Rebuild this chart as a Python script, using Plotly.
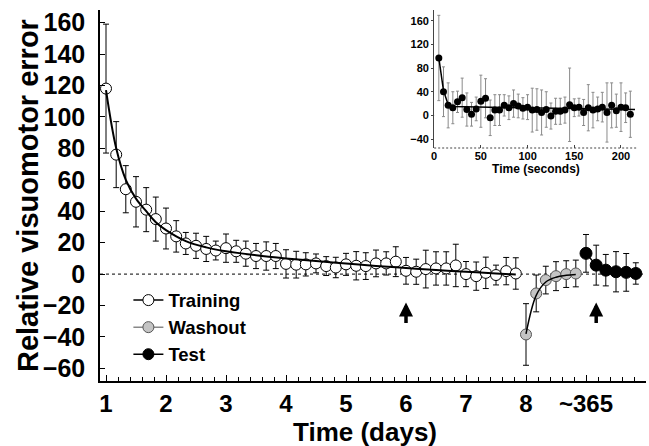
import plotly.graph_objects as go

# ---------------- data ----------------
train_day = [1.00, 1.17, 1.33, 1.50, 1.67, 1.83,
             2.00, 2.17, 2.33, 2.50, 2.67, 2.83,
             3.00, 3.17, 3.33, 3.50, 3.67, 3.83,
             4.00, 4.17, 4.33, 4.50, 4.67, 4.83,
             5.00, 5.17, 5.33, 5.50, 5.67, 5.83,
             6.00, 6.17, 6.33, 6.50, 6.67, 6.83,
             7.00, 7.17, 7.33, 7.50, 7.67, 7.83]
train_err_val = [118, 76, 54, 46, 41, 35,
                 29, 24, 19.5, 18, 16, 15,
                 16.5, 14.5, 13, 11.5, 11.5, 11.5,
                 6.5, 6, 6.2, 6.8, 5.1, 4.2,
                 6.2, 5.3, 5.1, 6.8, 6.8, 7.9,
                 2.1, 1.5, 3.2, 3.6, 3.6, 5.5,
                 0, -1.3, 0.8, -0.6, 1.9, 0.4]
train_sem = [41, 21, 15, 16, 14, 14,
             13, 10, 7, 8, 8, 6,
             9, 7, 8, 8, 9, 8,
             9, 8.5, 7.4, 6, 6, 6.5,
             7, 9, 8.5, 8.5, 7.4, 9.5,
             8.5, 8, 12, 10.6, 10.6, 13.5,
             8, 9, 10, 6.3, 8.7, 10]

train_fit_day = [1.00, 1.17, 1.33, 1.50, 1.67, 1.83, 2.00, 2.33, 2.67, 3.00,
                 3.50, 4.00, 4.50, 5.00, 5.50, 6.00, 6.50, 7.00, 7.50, 7.83]
train_fit_val = [117, 80, 60, 48, 40, 33, 28, 21, 17, 14.5,
                 12, 10, 8.3, 6.8, 5.2, 3.9, 2.6, 1.5, 0.4, -0.2]

wash_day = [8.00, 8.17, 8.33, 8.50, 8.67, 8.83]
wash_val = [-38.4, -12.3, -3.8, -1.3, 0, 0.4]
wash_sem = [19.6, 11.7, 8.8, 9.2, 8.5, 8.5]
wash_fit_val = [-38, -13.5, -5, -2, -0.8, -0.3]

test_day = [9.00, 9.17, 9.33, 9.50, 9.67, 9.83]
test_val = [13.2, 5.7, 2.5, 1.5, 1.1, 0.4]
test_sem = [12, 12.7, 10, 12.8, 12, 6.8]

x_tick_vals = [1, 2, 3, 4, 5, 6, 7, 8, 9]
x_tick_text = ["1", "2", "3", "4", "5", "6", "7", "8", "~365"]
y_tick_vals = [-60, -40, -20, 0, 20, 40, 60, 80, 100, 120, 140, 160]

arrow_days = [6.0, 9.17]

# inset (within-session, seconds)
inset_t = [5, 10, 15, 20, 25, 30, 35, 40, 45, 50, 55, 60, 65, 70,
           75, 80, 85, 90, 95, 100, 105, 110, 115, 120, 125, 130, 135, 140,
           145, 150, 155, 160, 165, 170, 175, 180, 185, 190, 195, 200, 205, 210]
inset_val = [97, 40, 17, 13, 23, 30, 10, 2, 11, 24, 29, -4, 9, 9,
             17, 13, 20, 16, 12, 14, 9, 10, 5, 10, -1, 7, 7, 9,
             18, 13, 14, 5, 13, 9, 11, 14, 5, 17, 8, 14, 13, 2]
inset_sd = [72, 42, 38, 27, 18, 33, 28, 20, 20, 44, 33, 30, 26, 26,
            18, 20, 23, 20, 18, 21, 37, 35, 38, 30, 22, 22, 22, 22,
            62, 15, 15, 22, 39, 30, 20, 25, 50, 38, 28, 41, 25, 39]
inset_fit_t = [5, 10, 15, 20, 60, 100, 140, 180, 215]
inset_fit_val = [97, 42, 18, 15, 14, 13, 12, 11, 10]
inset_tick_vals = [-40, 0, 40, 80, 120, 160]
inset_x_ticks = [0, 50, 100, 150, 200]

FONT = "Liberation Sans, Arial, sans-serif"

fig = go.Figure()

# training markers
fig.add_trace(go.Scatter(
    x=train_day, y=train_err_val, mode="markers", showlegend=False,
    marker=dict(symbol="circle", size=11, color="white",
                line=dict(color="black", width=1)),
    error_y=dict(type="data", array=train_sem, color="black",
                 thickness=1, width=3)))
# training fit
fig.add_trace(go.Scatter(
    x=train_fit_day, y=train_fit_val, mode="lines", showlegend=False,
    line=dict(color="black", width=2, shape="spline")))

# washout
fig.add_trace(go.Scatter(
    x=wash_day, y=wash_val, mode="markers", showlegend=False,
    marker=dict(symbol="circle", size=11, color="#c4c4c4",
                line=dict(color="#555555", width=1)),
    error_y=dict(type="data", array=wash_sem, color="black",
                 thickness=1, width=3)))
fig.add_trace(go.Scatter(
    x=wash_day, y=wash_fit_val, mode="lines", showlegend=False,
    line=dict(color="black", width=1.5, shape="spline")))

# test
fig.add_trace(go.Scatter(
    x=test_day, y=test_val, mode="lines+markers", showlegend=False,
    line=dict(color="black", width=1.5),
    marker=dict(symbol="circle", size=12, color="black",
                line=dict(color="black", width=1)),
    error_y=dict(type="data", array=test_sem, color="black",
                 thickness=1, width=3)))

# legend-only entries
fig.add_trace(go.Scatter(
    x=[None], y=[None], mode="lines+markers", name="Training",
    line=dict(color="black", width=1.5),
    marker=dict(size=11, color="white", line=dict(color="black", width=1))))
fig.add_trace(go.Scatter(
    x=[None], y=[None], mode="lines+markers", name="Washout",
    line=dict(color="#888888", width=1.5),
    marker=dict(size=11, color="#c4c4c4", line=dict(color="#555555", width=1))))
fig.add_trace(go.Scatter(
    x=[None], y=[None], mode="lines+markers", name="Test",
    line=dict(color="black", width=1.5),
    marker=dict(size=11, color="black", line=dict(color="black", width=1))))

# inset
fig.add_trace(go.Scatter(
    x=inset_t, y=inset_val, mode="markers", showlegend=False,
    xaxis="x2", yaxis="y2",
    marker=dict(symbol="circle", size=7, color="black"),
    error_y=dict(type="data", array=inset_sd, color="#8a8a8a",
                 thickness=1, width=1.5)))
fig.add_trace(go.Scatter(
    x=inset_fit_t, y=inset_fit_val, mode="lines", showlegend=False,
    xaxis="x2", yaxis="y2",
    line=dict(color="black", width=1.5)))

shapes = [
    dict(type="line", xref="x domain", yref="y", x0=0, x1=1, y0=0, y1=0,
         line=dict(color="black", width=1, dash="3px,3px"), layer="below"),
    dict(type="line", xref="x2 domain", yref="y2", x0=0, x1=1, y0=0, y1=0,
         line=dict(color="#666666", width=1, dash="2px,2px"), layer="below"),
    dict(type="line", xref="x2 domain", yref="y2 domain", x0=0, x1=1, y0=0, y1=0,
         line=dict(color="#444444", width=1.2, dash="2px,2px")),
]

annotations = []
for d in arrow_days:
    annotations.append(dict(
        x=d, y=-18, xref="x", yref="y", text="", showarrow=True,
        ax=0, ay=22, arrowhead=2, arrowsize=0.8, arrowwidth=3.5,
        arrowcolor="black", standoff=0))

annotations.append(dict(
    text="Time (days)", xref="paper", yref="paper", x=0.485, y=-0.138,
    xanchor="center", yanchor="middle", showarrow=False,
    font=dict(family=FONT, size=26, color="black", weight="bold")))
annotations.append(dict(
    text="Relative visuomotor error", xref="paper", yref="paper",
    x=-0.132, y=0.501, xanchor="center", yanchor="middle", showarrow=False,
    textangle=-90,
    font=dict(family=FONT, size=29, color="black", weight="bold")))

fig.update_layout(
    width=649, height=446,
    margin=dict(l=100, r=3, t=10, b=65),
    paper_bgcolor="white", plot_bgcolor="white",
    font=dict(family=FONT, color="black"),
    shapes=shapes, annotations=annotations,
    legend=dict(x=0.052, y=0.268, xanchor="left", yanchor="top",
                bgcolor="rgba(255,255,255,0)",
                font=dict(family=FONT, size=18.5, color="black", weight="bold"),
                tracegroupgap=0),
    xaxis=dict(
        range=[0.9, 10.0], showgrid=False, zeroline=False,
        showline=True, linecolor="black", linewidth=1.5,
        tickmode="array", tickvals=x_tick_vals, ticktext=x_tick_text,
        ticks="inside", ticklen=6, tickwidth=1.2, tickcolor="black",
        minor=dict(tickmode="linear", tick0=1, dtick=0.2, ticks="inside",
                   ticklen=4, tickwidth=1, tickcolor="black"),
        tickfont=dict(family=FONT, size=24, color="black", weight="bold"),
    ),
    yaxis=dict(
        range=[-68, 168], showgrid=False, zeroline=False,
        showline=True, linecolor="black", linewidth=1.5,
        tickmode="array", tickvals=y_tick_vals,
        ticks="inside", ticklen=5, tickwidth=1.2, tickcolor="black",
        ticklabelstandoff=8,
        tickfont=dict(family=FONT, size=25, color="black", weight="bold"),
    ),
    xaxis2=dict(
        domain=[0.612, 0.985], anchor="y2", range=[0, 218],
        showgrid=False, zeroline=False, showline=False,
        tickmode="array", tickvals=inset_x_ticks,
        ticks="inside", ticklen=3, tickcolor="#444444",
        tickfont=dict(family=FONT, size=11, color="black", weight="bold"),
        title=dict(text="Time (seconds)", standoff=2,
                   font=dict(family=FONT, size=12, color="black", weight="bold")),
    ),
    yaxis2=dict(
        domain=[0.628, 1.0], anchor="x2", range=[-55, 178],
        showgrid=False, zeroline=False,
        showline=True, linecolor="#444444", linewidth=1,
        tickmode="array", tickvals=inset_tick_vals,
        ticks="outside", ticklen=2, tickcolor="#444444",
        tickfont=dict(family=FONT, size=11, color="black", weight="bold"),
    ),
)

fig.write_html("out.html",
               config={"displayModeBar": False},
               post_script="document.body.style.margin='0';document.body.style.padding='0';")
